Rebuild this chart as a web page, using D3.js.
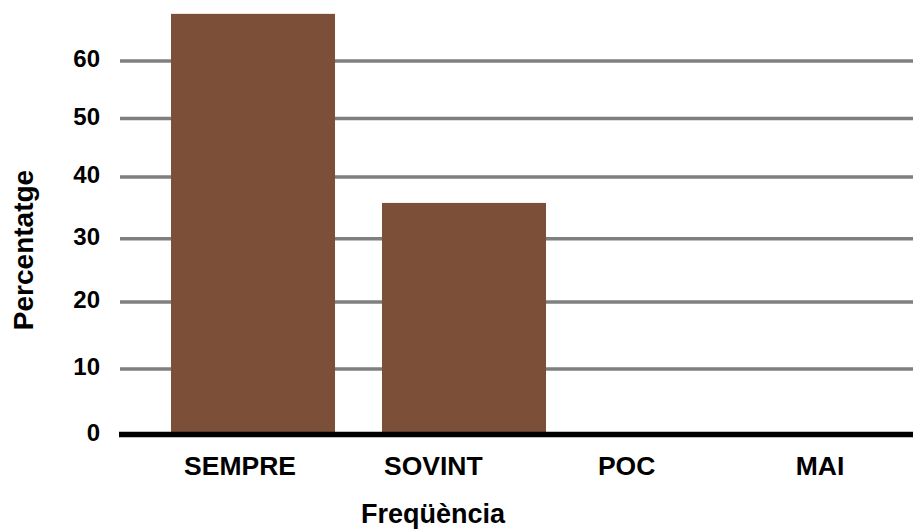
<!DOCTYPE html>
<html>
<head>
<meta charset="utf-8">
<script src="https://cdn.jsdelivr.net/npm/d3@7"></script>
<style>
  html, body { margin: 0; padding: 0; background: #fff; }
  svg { display: block; font-family: "Liberation Sans", Arial, sans-serif; font-weight: bold; }
</style>
</head>
<body>
<svg id="chart" width="913" height="529"></svg>
<script>
const categories = ["SEMPRE", "SOVINT", "POC", "MAI"];
const values = [68.2, 35.8, 0, 0];
const yTicks = [0, 10, 20, 30, 40, 50, 60];
const yTitle = "Percentatge";
const xTitle = "Freqüència";

const svg = d3.select("#chart");
const plotLeft = 120, plotRight = 913;

// y scale (the reference's gridlines are not evenly spaced)
const y = d3.scaleLinear()
  .domain(yTicks)
  .range([434.5, 369, 302, 238.7, 177, 118.5, 61]);

// bar band scale
const x = d3.scaleBand()
  .domain(categories)
  .range([120, 1019])
  .paddingInner(0.2227)
  .paddingOuter(0.2417)
  .align(0.5);

// label scale
const xl = d3.scalePoint()
  .domain(categories)
  .range([240, 820]);

// gridlines
svg.append("g")
  .selectAll("line")
  .data(yTicks.filter(d => d !== 0))
  .join("line")
  .attr("x1", plotLeft)
  .attr("x2", plotRight)
  .attr("y1", d => y(d))
  .attr("y2", d => y(d))
  .attr("stroke", "#7f7f7f")
  .attr("stroke-width", 3.5);

// bars
svg.append("g")
  .selectAll("rect")
  .data(categories.map((c, i) => ({ c, v: values[i] })).filter(d => d.v > 0))
  .join("rect")
  .attr("x", d => x(d.c))
  .attr("width", x.bandwidth())
  .attr("y", d => y(d.v))
  .attr("height", d => y(0) - y(d.v))
  .attr("fill", "#7c4f39");

// baseline
svg.append("line")
  .attr("x1", 119)
  .attr("x2", plotRight)
  .attr("y1", y(0))
  .attr("y2", y(0))
  .attr("stroke", "#000")
  .attr("stroke-width", 5.5);

// y tick labels
svg.append("g")
  .selectAll("text")
  .data(yTicks)
  .join("text")
  .attr("x", 100)
  .attr("y", d => y(d) + 6)
  .attr("text-anchor", "end")
  .attr("font-size", 24)
  .attr("fill", "#000")
  .text(d => d);

// x category labels
svg.append("g")
  .selectAll("text")
  .data(categories)
  .join("text")
  .attr("x", d => xl(d))
  .attr("y", 475)
  .attr("text-anchor", "middle")
  .attr("font-size", 26.5)
  .attr("fill", "#000")
  .text(d => d);

// axis titles
svg.append("text")
  .attr("x", 433)
  .attr("y", 523)
  .attr("text-anchor", "middle")
  .attr("font-size", 27)
  .attr("fill", "#000")
  .text(xTitle);

svg.append("text")
  .attr("transform", "translate(33,250) rotate(-90)")
  .attr("text-anchor", "middle")
  .attr("font-size", 28)
  .attr("fill", "#000")
  .text(yTitle);
</script>
</body>
</html>
